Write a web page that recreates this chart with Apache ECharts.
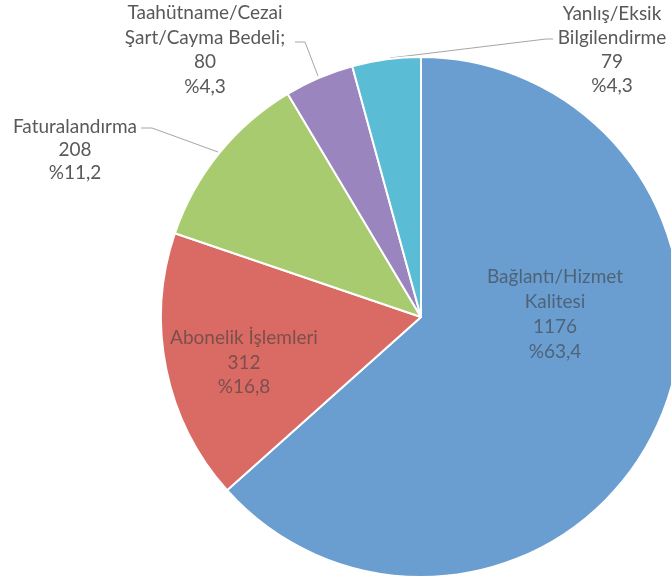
<!DOCTYPE html>
<html><head><meta charset="utf-8">
<script src="https://cdn.jsdelivr.net/npm/echarts@6/dist/echarts.min.js"></script>
<style>html,body{margin:0;padding:0;background:#fff}#c{width:671px;height:579px}</style>
</head><body><div id="c"></div>
<script>
var categories = ["Bağlantı/Hizmet\nKalitesi", "Abonelik İşlemleri", "Faturalandırma", "Taahütname/Cezai\nŞart/Cayma Bedeli;", "Yanlış/Eksik\nBilgilendirme"];
var values = [1176, 312, 208, 80, 79];
var colors = ["#6a9ed1", "#da6b64", "#a9cb6f", "#9a85bf", "#5bbcd6"];

var total = values.reduce(function(a,b){return a+b;},0);
function pct(v){ return "%" + (v/total*100).toFixed(1).replace(".", ","); }

var CX = 421, CY = 317, R = 260;
var insideColor = "rgba(60,60,60,0.6)";
var outColor = "#595959";

// label placement: x = centre of text block, y = top of block
var place = {
  0: {x: 555, y: 264, lh: 25},
  1: {x: 244, y: 326, lh: 24.5},
  2: {x: 75, y: 115, lh: 23, line: [[141,128],[152,128],[218,152]]},
  3: {x: 205, y: 1, lh: 24.5, line: [[295,42],[305,42],[318,76]]},
  4: {x: 612, y: 2, lh: 24, line: [[553,39],[546,39],[390,58]]}
};

var data = categories.map(function(n,i){
  var p = place[i];
  var d = {name: n, value: values[i], itemStyle: {color: colors[i]}};
  if (p.line) {
    d.label = {position: "outside", color: outColor, lineHeight: p.lh};
    d.labelLine = {show: true, lineStyle: {color: "#a6a6a6", width: 1}};
  } else {
    d.label = {position: "inside", color: insideColor, lineHeight: p.lh};
    d.labelLine = {show: false};
  }
  return d;
});

var chart = echarts.init(document.getElementById("c"));
chart.setOption({
  animation: false,
  backgroundColor: "#fff",
  series: [{
    type: "pie",
    center: [CX, CY],
    radius: [0, R],
    startAngle: 90,
    clockwise: true,
    avoidLabelOverlap: false,
    itemStyle: {borderColor: "#fff", borderWidth: 2},
    label: {
      show: true,
      fontFamily: "Lato",
      fontSize: 19,
      align: "center",
      formatter: function(p){ return p.name + "\n" + p.value + "\n" + pct(p.value); }
    },
    labelLayout: function(params){
      var p = place[params.dataIndex];
      var r = {x: p.x, y: p.y, align: "center", verticalAlign: "top"};
      if (p.line) r.labelLinePoints = p.line;
      return r;
    },
    data: data
  }]
});
</script></body></html>
